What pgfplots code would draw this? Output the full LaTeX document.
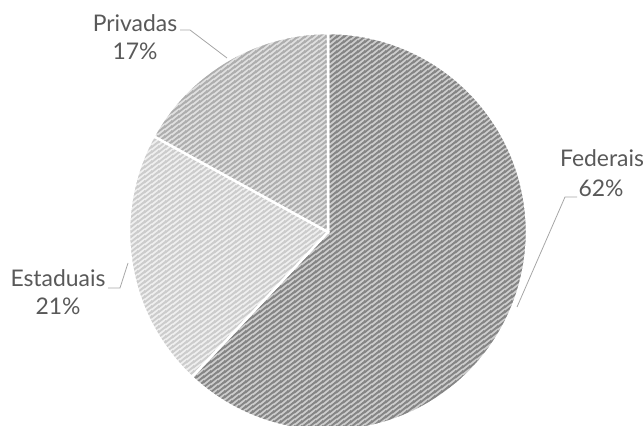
\documentclass[border=0pt]{standalone}
\usepackage{pgfplots}
\pgfplotsset{compat=1.18}
\usepackage{fontspec}
\setmainfont{Lato}
\usetikzlibrary{patterns}
\definecolor{txt}{HTML}{595959}
\definecolor{lead}{HTML}{A6A6A6}
% striped fills: light background, darker diagonal stripes
\newcommand{\stripepattern}[3]{%
\pgfdeclarepatterninherentlycolored{#1}{\pgfqpoint{0pt}{0pt}}{\pgfqpoint{6.6pt}{5pt}}{\pgfqpoint{6.6pt}{5pt}}%
{\definecolor{bgc}{HTML}{#2}\definecolor{fgc}{HTML}{#3}%
\pgfsetfillcolor{bgc}\pgfpathrectangle{\pgfqpoint{0pt}{0pt}}{\pgfqpoint{6.6pt}{5pt}}\pgfusepath{fill}%
\pgfsetstrokecolor{fgc}\pgfsetlinewidth{1.9pt}%
\pgfpathmoveto{\pgfqpoint{-1.32pt}{-1pt}}\pgfpathlineto{\pgfqpoint{7.92pt}{6pt}}%
\pgfpathmoveto{\pgfqpoint{-1.32pt}{4pt}}\pgfpathlineto{\pgfqpoint{7.92pt}{11pt}}%
\pgfpathmoveto{\pgfqpoint{-1.32pt}{-6pt}}\pgfpathlineto{\pgfqpoint{7.92pt}{1pt}}%
\pgfusepath{stroke}}}
\stripepattern{fedpat}{CDCDCD}{858585}
\stripepattern{estpat}{EFEFEF}{CCCCCC}
\stripepattern{pripat}{E0E0E0}{AEAEAE}
% shares (percent)
\def\vFed{62}
\def\vEst{21}
\def\vPri{17}
\def\cx{328}
\def\cy{194}
\def\pr{199}
\pgfmathsetmacro{\aO}{90}
\pgfmathsetmacro{\aA}{90-3.6*\vFed}
\pgfmathsetmacro{\aB}{\aA-3.6*\vEst}
\pgfmathsetmacro{\aC}{\aB-3.6*\vPri}
\begin{document}
\begin{tikzpicture}
\begin{axis}[scale only axis, width=643bp, height=426bp,
  xmin=0, xmax=643, ymin=0, ymax=426, hide axis, clip=true]
\addplot[draw=none, pattern=fedpat,
  postaction={draw=white, line width=2.5pt},
  domain=\aA:\aO, samples=150, variable=\t]
  ({\cx+\pr*cos(\t)},{\cy+\pr*sin(\t)}) -- (axis cs:\cx,\cy) -- cycle;
\addplot[draw=none, pattern=estpat,
  postaction={draw=white, line width=2.5pt},
  domain=\aB:\aA, samples=80, variable=\t]
  ({\cx+\pr*cos(\t)},{\cy+\pr*sin(\t)}) -- (axis cs:\cx,\cy) -- cycle;
\addplot[draw=none, pattern=pripat,
  postaction={draw=white, line width=2.5pt},
  domain=\aC:\aB, samples=80, variable=\t]
  ({\cx+\pr*cos(\t)},{\cy+\pr*sin(\t)}) -- (axis cs:\cx,\cy) -- cycle;
% leader lines
\draw[lead, line width=0.8pt] (axis cs:180,396) -- (axis cs:190,396) -- (axis cs:227,368);
\draw[lead, line width=0.8pt] (axis cs:108,138) -- (axis cs:120,138) -- (axis cs:128,163);
\draw[lead, line width=0.8pt] (axis cs:577,229) -- (axis cs:565,229) -- (axis cs:517,119);
% labels
\tikzset{lab/.style={anchor=base, text=txt, inner sep=0pt, font=\fontsize{23}{28}\selectfont}}
\node[lab] at (axis cs:135,394) {Privadas};
\node[lab] at (axis cs:135,366) {17\%};
\node[lab] at (axis cs:58,139) {Estaduais};
\node[lab] at (axis cs:58,111) {21\%};
\node[lab] at (axis cs:602,259) {Federais};
\node[lab] at (axis cs:601,229) {62\%};
\end{axis}
\pgfresetboundingbox
\path (current axis.south west) rectangle (current axis.north east);
\end{tikzpicture}
\end{document}
